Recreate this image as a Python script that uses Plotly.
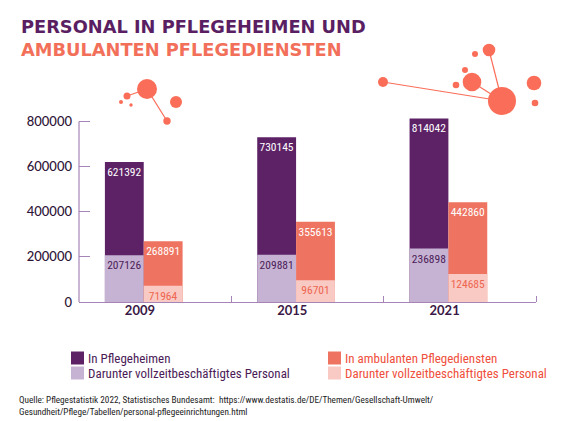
import plotly.graph_objects as go

years = ["2009", "2015", "2021"]
heime_gesamt = [621392, 730145, 814042]
heime_vollzeit = [207126, 209881, 236898]
ambulant_gesamt = [268891, 355613, 442860]
ambulant_vollzeit = [71964, 96701, 124685]
y_ticks = [0, 200000, 400000, 600000, 800000]

legend_names = ["In Pflegeheimen", "Darunter vollzeitbeschäftigtes Personal",
                "In ambulanten Pflegediensten", "Darunter vollzeitbeschäftigtes Personal"]

DARK = "#5d2266"
LIGHT = "#c6b3d3"
ORANGE = "#ee7461"
PINK = "#f9cac3"
AXIS = "#a784b8"
NARROW = "Liberation Sans Narrow, Roboto Condensed, DejaVu Sans Condensed, sans-serif"

# the page sits 8px in from the window corner, so the figure is 8px smaller
OFF = 8
FW, FH = 565 - OFF, 421 - OFF
# plot area in window pixels: x 79..536, y 118..302
L, R, T, B = 79 - OFF, 29, 118 - OFF, 119
W = FW - L - R
H = FH - T - B


def px(x):
    return (x - OFF - L) / W


def py(y):
    return (FH - B - (y - OFF)) / H


idx = list(range(len(years)))

fig = go.Figure()


def add_bar(vals, offset, color, textcolor):
    fig.add_trace(go.Bar(
        x=idx, y=vals, offset=offset, width=0.255,
        marker=dict(color=color, line=dict(width=0)),
        text=[str(v) for v in vals], textposition="inside",
        insidetextanchor="end", textangle=0,
        insidetextfont=dict(family=NARROW, size=11.5, color=textcolor),
        showlegend=False, hoverinfo="skip",
    ))


add_bar(heime_gesamt, -0.33, DARK, "white")
add_bar(heime_vollzeit, -0.33, LIGHT, "#4b1b57")
add_bar(ambulant_gesamt, -0.075, ORANGE, "white")
add_bar(ambulant_vollzeit, -0.075, PINK, "#ee6550")

shapes = []
# y axis line only up to the last tick
shapes.append(dict(type="line", xref="paper", yref="y", x0=0, x1=0, y0=0, y1=y_ticks[-1],
                   line=dict(color=AXIS, width=1.2)))

# decorative bubbles
DECO = "#fa6e59"
circles = [(147, 89, 10), (176, 102, 6), (127, 96, 3.5), (121, 102, 2), (131, 105, 1.7), (167, 121, 3.7),
           (502, 101, 14), (489, 50, 6.3), (383, 82, 5), (472, 82, 9.3), (456, 85, 3.3),
           (465, 70, 3), (475, 54, 3), (534, 83, 7.3), (535, 103, 3.3)]
links = [((127, 96), (147, 89)), ((147, 89), (167, 121)),
         ((489, 50), (502, 101)), ((383, 82), (502, 101)), ((472, 82), (502, 101))]
for (a, b) in links:
    shapes.append(dict(type="line", xref="paper", yref="paper",
                       x0=px(a[0]), y0=py(a[1]), x1=px(b[0]), y1=py(b[1]),
                       line=dict(color=DECO, width=1.2)))
for cx, cy, r in circles:
    shapes.append(dict(type="circle", xref="paper", yref="paper",
                       x0=px(cx - r), x1=px(cx + r), y0=py(cy + r), y1=py(cy - r),
                       fillcolor=DECO, line=dict(width=0)))

# legend squares
leg_colors = [DARK, LIGHT, ORANGE, PINK]
leg_text_colors = ["#4b1b57", "#4b1b57", "#ef4f3c", "#ef4f3c"]
leg_pos = [(71, 358), (71, 373), (328, 358), (328, 373)]
annotations = []
for (lx, ly), c, tc, name in zip(leg_pos, leg_colors, leg_text_colors, legend_names):
    shapes.append(dict(type="rect", xref="paper", yref="paper",
                       x0=px(lx), x1=px(lx + 13), y0=py(ly + 6.5), y1=py(ly - 6.5),
                       fillcolor=c, line=dict(width=0)))
    annotations.append(dict(xref="paper", yref="paper", x=px(lx + 15), y=py(ly),
                            xanchor="left", yanchor="middle", showarrow=False, text=name,
                            font=dict(family=NARROW, size=13, color=tc)))

annotations.append(dict(xref="paper", yref="paper", x=px(19), y=py(27), xanchor="left", yanchor="middle",
                        showarrow=False, text="<b>PERSONAL IN PFLEGEHEIMEN UND</b>",
                        font=dict(family="DejaVu Sans", size=17.8, color="#5a1e62")))
annotations.append(dict(xref="paper", yref="paper", x=px(19), y=py(50), xanchor="left", yanchor="middle",
                        showarrow=False, text="<b>AMBULANTEN PFLEGEDIENSTEN</b>",
                        font=dict(family="DejaVu Sans", size=17.8, color="#f2705a")))
annotations.append(dict(xref="paper", yref="paper", x=px(17), y=py(405), xanchor="left", yanchor="middle",
                        showarrow=False, align="left",
                        text="Quelle: Pflegestatistik 2022, Statistisches Bundesamt:  https://www.destatis.de/DE/Themen/Gesellschaft-Umwelt/"
                             "<br>Gesundheit/Pflege/Tabellen/personal-pflegeeinrichtungen.html",
                        font=dict(family=NARROW, size=9.2, color="#222222")))

fig.update_layout(
    width=FW, height=FH,
    margin=dict(l=L, r=R, t=T, b=B),
    barmode="overlay",
    uniformtext=dict(minsize=11.5, mode="show"),
    paper_bgcolor="white", plot_bgcolor="white",
    shapes=shapes, annotations=annotations,
    xaxis=dict(range=[-0.5, 2.5], tickvals=[i - 0.1 for i in idx], ticktext=years,
               ticks="", showgrid=False, zeroline=False,
               showline=True, linecolor=AXIS, linewidth=1.2,
               tickfont=dict(family="Lato", size=13, color="#3a1845", weight="bold"),
               ticklabelstandoff=-4,
               minor=dict(tickmode="array", tickvals=[0.5, 1.5, 2.5], ticks="inside",
                          ticklen=6, tickcolor=AXIS, tickwidth=1.2)),
    yaxis=dict(range=[0, 816000], tickvals=y_ticks, ticktext=[str(v) for v in y_ticks],
               ticks="inside", ticklen=11, tickcolor=AXIS, tickwidth=1.2,
               showgrid=False, zeroline=False, showline=False,
               tickfont=dict(family="Lato", size=13, color="#2e1437", weight=500),
               ticklabelstandoff=6),
)

fig.write_html("out.html")
